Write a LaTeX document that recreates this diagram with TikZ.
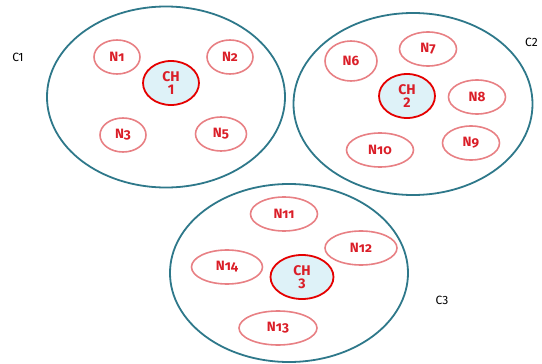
\documentclass[tikz,border=0pt]{standalone}
\usepackage{fontspec}
\setmainfont{Fira Sans}
\usetikzlibrary{shapes.geometric}
\definecolor{bleucanard}{RGB}{46,120,138}
\definecolor{rougetxt}{RGB}{218,30,40}
\definecolor{rosebord}{RGB}{232,128,132}
\definecolor{bleuclair}{RGB}{222,242,248}

\begin{document}
\begin{tikzpicture}[x=1pt,y=-1pt]
\tikzstyle{groupe}=[ellipse,draw=bleucanard,line width=1.8pt,inner sep=0pt]
\tikzstyle{etiquette}=[font=\fontsize{12}{12}\selectfont]
\tikzset{noeud/.style={ellipse,draw=rosebord,line width=1.6pt,inner sep=0pt,
  minimum height=34pt,minimum width=#1,text=rougetxt,
  font=\fontsize{13.5}{13}\selectfont\bfseries\addfontfeatures{Numbers=OldStyle}},
noeud/.default={46pt}}
\tikzset{chef/.style={ellipse,draw=red!90!black,line width=1.8pt,fill=bleuclair,
  inner sep=0pt,minimum width=#1,minimum height=44pt,text=rougetxt,align=center,
  font=\fontsize{14}{13}\selectfont\bfseries},
chef/.default={56pt}}
\useasboundingbox (0,0) rectangle (542,364);

% les trois groupes
\node[groupe,minimum width=238pt,minimum height=181pt] (G1) at (166,97) {};
\node[groupe,minimum width=239pt,minimum height=182pt] (G2) at (413,104) {};
\node[groupe,minimum width=238pt,minimum height=178pt] (G3) at (289,273) {};

\node[etiquette] (C1) at (18,57) {C1};
\node[etiquette,anchor=west,inner sep=0pt] (C2) at (525,42) {C2};
\node[etiquette] (C3) at (442,300) {C3};

% groupe 1
\node[chef] (CH1) at (171,83) {CH\\1};
\node[noeud] (N1) at (117,57) {N1};
\node[noeud] (N2) at (230,57) {N2};
\node[noeud] (N3) at (123,135) {N3};
\node[noeud=51pt] (N5) at (221,134) {N5};

% groupe 2
\node[chef] (CH2) at (407,96) {CH\\2};
\node[noeud=52pt,minimum height=40pt] (N6) at (351,61) {N6};
\node[noeud=57pt] (N7) at (428,49) {N7};
\node[noeud=57pt] (N8) at (477,97) {N8};
\node[noeud=57pt] (N9) at (471,143) {N9};
\node[noeud=67pt] (N10) at (380,150) {N10};

% groupe 3
\node[chef=63pt] (CH3) at (302,277) {CH\\3};
\node[noeud=67pt] (N11) at (284,214) {N11};
\node[noeud=72pt] (N12) at (361,248) {N12};
\node[noeud=78pt] (N13) at (278,328) {N13};
\node[noeud=71pt] (N14) at (227,267) {N14};

\end{tikzpicture}
\end{document}
